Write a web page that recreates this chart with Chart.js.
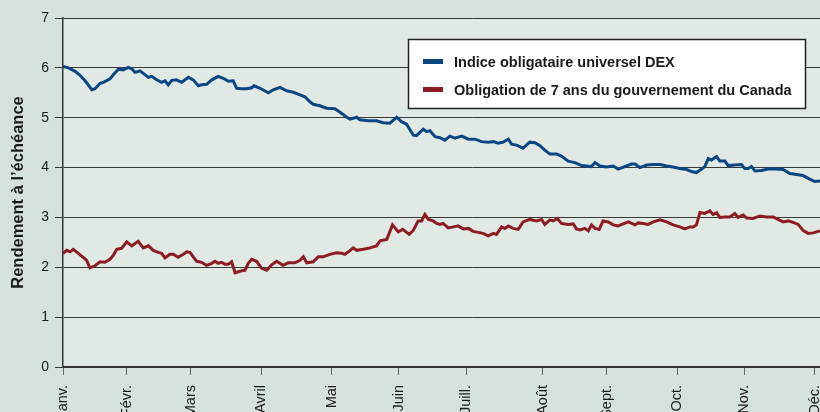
<!DOCTYPE html>
<html lang="fr">
<head>
<meta charset="utf-8">
<script src="https://cdn.jsdelivr.net/npm/chart.js@4.4.1/dist/chart.umd.min.js"></script>
<style>
  html, body { margin: 0; padding: 0; overflow: hidden; background: #d5e1db; }
  #cadre { position: absolute; left: 0; top: 0; width: 890px; height: 430px; }
</style>
</head>
<body>
<div id="cadre"><canvas id="graphique" width="890" height="430"></canvas></div>
<script>
// Mois (début de chaque mois, en jours ouvrables depuis le 1er janvier)
const mois = ["Janv.", "Févr.", "Mars", "Avril", "Mai", "Juin", "Juill.", "Août", "Sept.", "Oct.", "Nov.", "Déc."];
const debutMois = [0, 20, 40, 62, 84, 105, 126, 150, 170, 192, 213, 235];
const finAnnee = 256;

// Indice obligataire universel DEX
const dexJours = [0, 1.7, 3.8, 5.3, 6.9, 7.9, 9.0, 10.0, 11.6, 12.6, 14.7, 15.7, 17.3, 18.8, 20.4, 21.5, 22.5, 24.1, 25.1, 26.7,
  27.7, 29.3, 30.8, 31.9, 32.9, 34.0, 35.5, 37.1, 39.2, 40.7, 42.3, 43.3, 44.9, 46.5, 48.5, 50.1, 51.7, 53.2, 54.3, 55.8,
  57.4, 59.0, 59.7, 61.6, 64.2, 65.7, 67.8, 69.9, 72.0, 74.1, 75.6, 77.2, 78.2, 80.3, 82.4, 85.0, 86.6, 88.7, 89.7, 91.8,
  92.8, 95.4, 98.0, 100.1, 102.2, 104.3, 105.8, 107.4, 109.5, 110.5, 112.6, 113.7, 114.7, 116.3, 117.8, 119.4, 120.9, 122.5, 124.6, 126.7,
  128.8, 130.8, 132.9, 134.5, 136.0, 137.6, 139.2, 140.2, 141.8, 143.8, 145.9, 147.5, 149.1, 150.6, 152.2, 154.3, 155.8, 157.9, 160.0, 162.1,
  165.2, 166.3, 167.8, 169.9, 172.0, 173.5, 175.6, 177.7, 178.8, 180.3, 182.4, 184.5, 186.6, 188.7, 190.7, 192.8, 194.9, 196.5, 198.0, 199.6,
  200.6, 201.7, 202.7, 204.3, 205.3, 206.9, 207.9, 210.0, 212.1, 213.1, 214.2, 215.2, 216.3, 218.3, 220.4, 222.5, 225.1, 227.2, 229.3, 231.3,
  233.4, 235.0, 236.6];
const dexRendement = [6.03, 6.00, 5.93, 5.85, 5.74, 5.66, 5.56, 5.58, 5.69, 5.71, 5.78, 5.86, 5.97, 5.96, 6.01, 5.98, 5.91, 5.94, 5.89, 5.81,
  5.83, 5.76, 5.71, 5.74, 5.66, 5.75, 5.76, 5.71, 5.81, 5.76, 5.64, 5.66, 5.67, 5.76, 5.83, 5.79, 5.73, 5.74, 5.59, 5.58,
  5.58, 5.60, 5.64, 5.59, 5.50, 5.56, 5.61, 5.54, 5.51, 5.46, 5.42, 5.32, 5.27, 5.24, 5.19, 5.18, 5.11, 5.01, 4.97, 5.01,
  4.96, 4.94, 4.94, 4.90, 4.89, 5.01, 4.92, 4.87, 4.65, 4.64, 4.77, 4.72, 4.74, 4.62, 4.60, 4.55, 4.63, 4.59, 4.63, 4.57,
  4.57, 4.52, 4.51, 4.52, 4.49, 4.51, 4.57, 4.47, 4.45, 4.39, 4.51, 4.50, 4.44, 4.35, 4.27, 4.27, 4.23, 4.13, 4.10, 4.04,
  4.02, 4.10, 4.03, 4.01, 4.03, 3.97, 4.02, 4.07, 4.07, 4.00, 4.05, 4.06, 4.06, 4.03, 4.01, 3.98, 3.96, 3.92, 3.90, 3.97,
  4.02, 4.18, 4.15, 4.22, 4.13, 4.13, 4.04, 4.05, 4.06, 3.98, 3.98, 4.02, 3.93, 3.94, 3.97, 3.97, 3.96, 3.88, 3.86, 3.84,
  3.77, 3.72, 3.73];

// Obligation de 7 ans du gouvernement du Canada
const gocJours = [0, 1.2, 2.2, 3.2, 4.8, 6.3, 7.4, 8.4, 10.0, 11.6, 13.1, 14.7, 15.7, 16.8, 18.3, 19.9, 21.5, 23.5, 25.1, 26.7,
  28.2, 29.8, 30.8, 31.9, 33.4, 34.5, 36.0, 37.6, 38.7, 39.7, 40.7, 41.8, 43.3, 44.9, 46.5, 47.5, 48.5, 49.6, 50.6, 51.7,
  52.7, 53.8, 55.3, 56.9, 57.9, 59.0, 60.5, 62.1, 63.7, 65.2, 66.8, 68.8, 70.4, 72.5, 74.1, 75.1, 76.2, 78.2, 79.8, 81.3,
  83.4, 85.5, 87.1, 88.1, 89.2, 90.7, 91.8, 93.8, 95.4, 97.0, 98.0, 99.1, 101.2, 103.0, 104.8, 106.2, 108.2, 109.5, 111.0, 112.1,
  113.1, 114.2, 115.7, 116.8, 117.8, 118.8, 120.4, 122.0, 123.5, 125.1, 126.7, 128.2, 129.8, 131.3, 132.9, 134.5, 135.5, 137.1, 138.1, 139.2,
  140.7, 142.3, 143.8, 145.9, 148.0, 149.6, 150.6, 152.2, 153.2, 154.5, 155.8, 157.9, 159.5, 160.5, 161.6, 163.1, 164.2, 165.2, 166.3, 167.6,
  168.8, 170.4, 172.0, 173.5, 175.1, 176.7, 178.8, 179.8, 181.3, 182.9, 184.5, 186.6, 188.7, 190.7, 192.8, 194.4, 195.9, 197.0, 198.0, 199.1,
  200.6, 202.2, 203.2, 204.3, 205.3, 206.9, 208.4, 210.0, 211.0, 212.6, 213.7, 215.7, 217.8, 219.9, 222.0, 223.5, 225.1, 226.7, 228.2, 229.8,
  231.3, 232.9, 234.5, 236.6];
const gocRendement = [2.28, 2.34, 2.31, 2.36, 2.28, 2.20, 2.14, 1.99, 2.03, 2.11, 2.10, 2.16, 2.24, 2.36, 2.38, 2.51, 2.43, 2.52, 2.39, 2.43,
  2.34, 2.30, 2.28, 2.19, 2.26, 2.26, 2.20, 2.26, 2.31, 2.30, 2.21, 2.12, 2.10, 2.04, 2.08, 2.12, 2.08, 2.10, 2.06, 2.06,
  2.11, 1.89, 1.92, 1.94, 2.08, 2.16, 2.12, 1.98, 1.94, 2.05, 2.12, 2.04, 2.09, 2.09, 2.14, 2.21, 2.09, 2.11, 2.21, 2.21,
  2.26, 2.29, 2.28, 2.26, 2.31, 2.39, 2.34, 2.36, 2.38, 2.41, 2.43, 2.53, 2.56, 2.85, 2.71, 2.76, 2.66, 2.74, 2.93, 2.93,
  3.06, 2.96, 2.93, 2.88, 2.86, 2.88, 2.79, 2.81, 2.83, 2.77, 2.78, 2.72, 2.70, 2.68, 2.63, 2.68, 2.66, 2.81, 2.78, 2.83,
  2.78, 2.76, 2.91, 2.96, 2.93, 2.96, 2.86, 2.95, 2.93, 2.98, 2.88, 2.86, 2.87, 2.77, 2.75, 2.78, 2.73, 2.85, 2.78, 2.76,
  2.93, 2.91, 2.85, 2.83, 2.87, 2.91, 2.85, 2.89, 2.88, 2.86, 2.91, 2.95, 2.91, 2.85, 2.81, 2.77, 2.81, 2.81, 2.85, 3.10,
  3.08, 3.13, 3.06, 3.09, 3.00, 3.01, 3.01, 3.08, 3.00, 3.05, 2.99, 2.98, 3.03, 3.01, 3.01, 2.96, 2.91, 2.93, 2.90, 2.86,
  2.74, 2.68, 2.69, 2.73];

const serieDex = dexJours.map((j, i) => ({ x: j, y: dexRendement[i] }));
const serieGoc = gocJours.map((j, i) => ({ x: j, y: gocRendement[i] }));

// Fond de la zone de tracé
const fondZone = {
  id: "fondZone",
  beforeDraw(chart) {
    const { ctx, chartArea: a } = chart;
    ctx.save();
    ctx.fillStyle = "#e1e9e4";
    ctx.fillRect(a.left, a.top, a.right - a.left, a.bottom - a.top);
    ctx.restore();
  }
};

// Légende encadrée dans le graphique
const legendeBoite = {
  id: "legendeBoite",
  afterDraw(chart) {
    const ctx = chart.ctx;
    const x = 408.5, y = 39.5, w = 397, h = 69;
    ctx.save();
    ctx.fillStyle = "#ffffff";
    ctx.fillRect(x, y, w, h);
    ctx.strokeStyle = "#222";
    ctx.lineWidth = 1.5;
    ctx.strokeRect(x, y, w, h);
    ctx.font = "bold 14.5px 'Liberation Sans', Arial, sans-serif";
    ctx.textBaseline = "middle";
    chart.data.datasets.forEach((ds, i) => {
      const cy = y + 22 + i * 28;
      ctx.fillStyle = ds.borderColor;
      ctx.fillRect(x + 14.5, cy - 2.5, 20, 5);
      ctx.fillStyle = "#1a1a1a";
      ctx.fillText(ds.label, x + 45.5, cy + 1);
    });
    ctx.restore();
  }
};

new Chart(document.getElementById("graphique").getContext("2d"), {
  type: "line",
  data: {
    datasets: [
      { label: "Indice obligataire universel DEX", data: serieDex, borderColor: "#0a4683", borderWidth: 3, pointRadius: 0, tension: 0 },
      { label: "Obligation de 7 ans du gouvernement du Canada", data: serieGoc, borderColor: "#8c1c22", borderWidth: 3, pointRadius: 0, tension: 0 }
    ]
  },
  options: {
    responsive: false,
    animation: false,
    devicePixelRatio: 1,
    layout: { padding: { left: 0, top: 18, right: 8, bottom: 0 } },
    plugins: { legend: { display: false }, tooltip: { enabled: false } },
    scales: {
      x: {
        type: "linear",
        min: 0,
        max: finAnnee,
        afterFit: s => { s.height = 63; },
        afterBuildTicks: s => { s.ticks = debutMois.map(v => ({ value: v })); },
        border: { display: true, color: "#333", width: 1.5 },
        grid: { drawOnChartArea: false, drawTicks: true, tickLength: 8, color: "#666" },
        ticks: {
          autoSkip: false,
          maxRotation: 90,
          minRotation: 90,
          padding: 10,
          color: "#1a1a1a",
          font: { family: "'Liberation Sans', Arial, sans-serif", size: 14.5 },
          callback: v => mois[debutMois.indexOf(v)]
        }
      },
      y: {
        min: 0,
        max: 7,
        afterFit: s => { s.width = 63; },
        border: { display: true, color: "#333", width: 1.5 },
        grid: { color: "#3a3a3a", lineWidth: 1, tickLength: 8 },
        ticks: {
          stepSize: 1,
          padding: 6,
          color: "#1a1a1a",
          font: { family: "'Liberation Sans', Arial, sans-serif", size: 14 }
        },
        title: {
          display: true,
          text: "Rendement à l’échéance",
          color: "#1a1a1a",
          padding: { top: 9, bottom: 0 },
          font: { family: "'Liberation Sans', Arial, sans-serif", size: 16.5, weight: "bold" }
        }
      }
    }
  },
  plugins: [fondZone, legendeBoite]
});
</script>
</body>
</html>
